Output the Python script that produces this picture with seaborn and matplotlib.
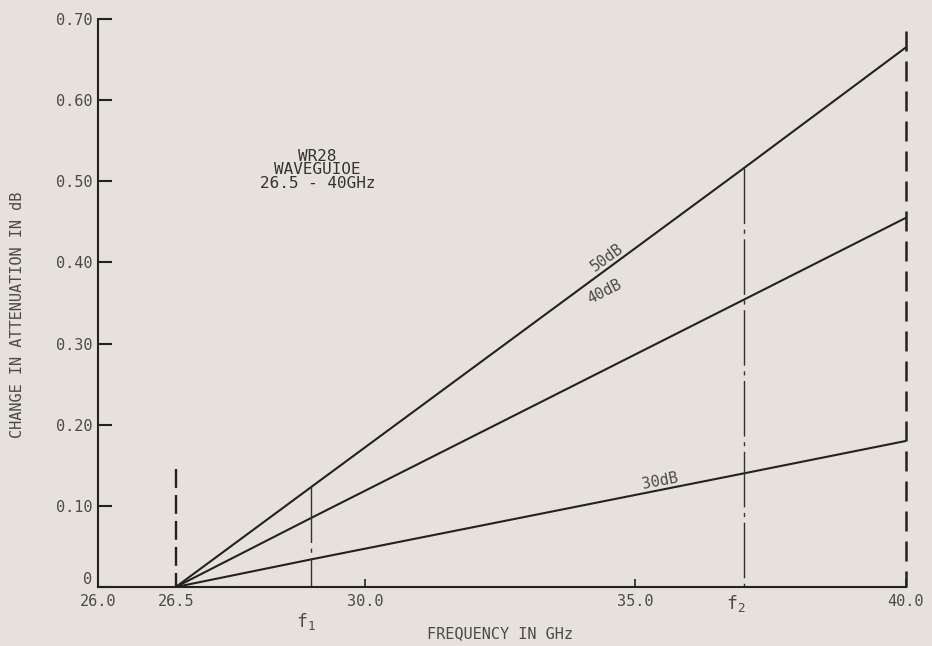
import pandas as pd
import matplotlib
matplotlib.use("Agg")
import matplotlib.pyplot as plt
import seaborn as sns

# values (GHz, dB)
freq = [26.5, 29.0, 37.0, 40.0]
att_50db = [0.0, 0.123, 0.516, 0.665]
att_40db = [0.0, 0.085, 0.354, 0.455]
att_30db = [0.0, 0.034, 0.140, 0.180]
levels = ["50dB", "40dB", "30dB"]

f1 = 29.0
f2 = 37.0
band_lo = 26.5
band_hi = 40.0
band_lo_top = 0.145
band_hi_top = 0.685

xtick_pos = [25.06, 26.5, 30.0, 35.0, 40.0]
xtick_lab = ["26.0", "26.5", "30.0", "35.0", "40.0"]
ytick_pos = [0.0, 0.1, 0.2, 0.3, 0.4, 0.5, 0.6, 0.7]
ytick_lab = ["0", "0.10", "0.20", "0.30", "0.40", "0.50", "0.60", "0.70"]

BG = "#e7e1db"
INK = "#222222"
TXT = "#4a4a4a"

sns.set_theme(style="ticks")
plt.rcParams['font.family'] = ['DejaVu Sans Mono', 'DejaVu Sans']
plt.rc('font', size=11.5)

rows = []
for lev, vals in zip(levels, [att_50db, att_40db, att_30db]):
    for f, v in zip(freq, vals):
        rows.append({"freq": f, "att": v, "level": lev})
df = pd.DataFrame(rows)

fig = plt.figure(figsize=(9.32, 6.46), dpi=100, facecolor=BG)
ax = fig.add_axes([0.105, 0.0913, 0.867, 0.8793])
ax.set_facecolor(BG)

sns.lineplot(data=df, x="freq", y="att", hue="level", palette=[INK] * 3,
             legend=False, lw=1.5, ax=ax)

# band edges
ax.plot([band_lo, band_lo], [band_lo_top, 0], color=INK, lw=1.7, ls=(0, (8, 3)))
ax.plot([band_hi, band_hi], [band_hi_top, 0], color=INK, lw=1.8, ls=(0, (8, 4)),
        clip_on=False)
# f1 / f2 markers
ax.plot([f1, f1], [att_50db[1], 0], color="#333333", lw=1.0, ls=(0, (40, 4, 3, 4)))
ax.plot([f2, f2], [att_50db[2], 0], color="#333333", lw=1.0, ls=(0, (40, 4, 3, 4)))

ax.set_xlim(25.06, 40.0)
ax.set_ylim(0, 0.70)
ax.set_xticks(xtick_pos)
ax.set_xticklabels(xtick_lab)
ax.set_yticks(ytick_pos)
ax.set_yticklabels(ytick_lab)
ax.tick_params(axis="y", direction="in", length=10, width=1.5, pad=4,
               colors=INK, labelcolor=TXT)
ax.tick_params(axis="x", direction="in", length=6, width=1.2, pad=5,
               colors=INK, labelcolor=TXT)
# the zero label sits on the axis line
ax.get_yticklabels()[0].set_verticalalignment("bottom")

sns.despine(ax=ax)
for s in ["left", "bottom"]:
    ax.spines[s].set_color(INK)
    ax.spines[s].set_linewidth(1.5)

ax.set_xlabel("FREQUENCY IN GHz", color=TXT, fontsize=11)
ax.set_ylabel("CHANGE IN ATTENUATION IN dB", color=TXT, fontsize=11)
ax.xaxis.set_label_coords(0.4975, -0.068)
ax.yaxis.set_label_coords(-0.09, 0.48)

ax.text(29.12, 0.514, "WR28\nWAVEGUIOE\n26.5 - 40GHz", ha="center", va="center",
        color="#333333", fontsize=11.5, linespacing=0.9)

ax.text(34.47, 0.406, "50dB", rotation=36, ha="center", va="center",
        color=TXT, fontsize=11, rotation_mode="anchor")
ax.text(34.43, 0.364, "40dB", rotation=27, ha="center", va="center",
        color=TXT, fontsize=11, rotation_mode="anchor")
ax.text(35.45, 0.131, "30dB", rotation=11, ha="center", va="center",
        color=TXT, fontsize=11, rotation_mode="anchor")

ax.text(f1 - 0.1, -0.042, "$\\mathregular{f_1}$", ha="center", va="center",
        color=TXT, fontsize=13)
ax.text(f2 - 0.15, -0.02, "$\\mathregular{f_2}$", ha="center", va="center",
        color=TXT, fontsize=13)

plt.savefig("out.png", dpi=100, facecolor=BG)
